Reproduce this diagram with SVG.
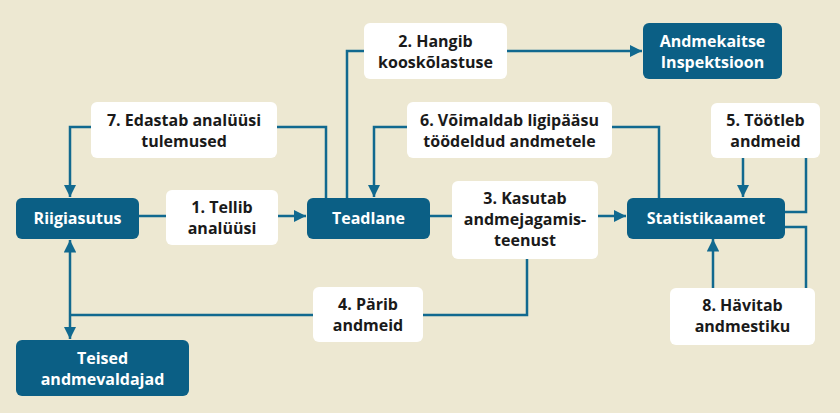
<svg xmlns="http://www.w3.org/2000/svg" width="840" height="413" viewBox="0 0 840 413">
<style>
.n{fill:#0b5f85}
.l{fill:#fff}
.t{font-family:"Open Sans","Liberation Sans",sans-serif;font-weight:bold;font-size:16px;text-anchor:middle}
.tw{fill:#fff}
.tb{fill:#1a1a1a}
.c{fill:none;stroke:#11698f;stroke-width:2.5}
</style>
<defs>
<marker id="a" viewBox="0 0 10 10" refX="10" refY="5" markerWidth="5" markerHeight="5" orient="auto-start-reverse" markerUnits="strokeWidth"><path d="M0,0L10,5L0,10z" fill="#11698f"/></marker>
</defs>
<rect width="840" height="413" fill="#ede8d2"/>
<g id="connectors">
<path class="c" d="M139,216H306" marker-end="url(#a)"/>
<path class="c" d="M430,216H626" marker-end="url(#a)"/>
<path class="c" d="M347,198V51H642" marker-end="url(#a)"/>
<path class="c" d="M326,198V127H70V197" marker-end="url(#a)"/>
<path class="c" d="M659,198V127H374V197" marker-end="url(#a)"/>
<path class="c" d="M743,158V197" marker-end="url(#a)"/>
<path class="c" d="M785,212H806V158"/>
<path class="c" d="M785,227H806V288"/>
<path class="c" d="M713,288V239" marker-end="url(#a)"/>
<path class="c" d="M527,259V315H70"/>
<path class="c" d="M70,240V339" marker-start="url(#a)" marker-end="url(#a)"/>
</g>
<g id="riigiasutus"><rect class="n" x="16" y="198" width="123" height="41" rx="6"/><text class="t tw" x="77.5" y="224">Riigiasutus</text></g>
<g id="teadlane"><rect class="n" x="307" y="198" width="123" height="41" rx="6"/><text class="t tw" x="368.5" y="224">Teadlane</text></g>
<g id="statistikaamet"><rect class="n" x="627" y="198" width="158" height="41" rx="6"/><text class="t tw" x="706" y="224">Statistikaamet</text></g>
<g id="andmekaitse"><rect class="n" x="643" y="23" width="139" height="56" rx="6"/><text class="t tw" x="712.5" y="47">Andmekaitse</text><text class="t tw" x="712.5" y="68">Inspektsioon</text></g>
<g id="teised"><rect class="n" x="16" y="340" width="173" height="56" rx="6"/><text class="t tw" x="102.5" y="364">Teised</text><text class="t tw" x="102.5" y="385">andmevaldajad</text></g>
<g id="l2"><rect class="l" x="364" y="23" width="143" height="56" rx="6"/><text class="t tb" x="435.5" y="47">2. Hangib</text><text class="t tb" x="435.5" y="68">kooskõlastuse</text></g>
<g id="l7"><rect class="l" x="91" y="102" width="186" height="56" rx="6"/><text class="t tb" x="184" y="126">7. Edastab analüüsi</text><text class="t tb" x="184" y="147">tulemused</text></g>
<g id="l6"><rect class="l" x="407" y="102" width="205" height="56" rx="6"/><text class="t tb" x="509.5" y="126">6. Võimaldab ligipääsu</text><text class="t tb" x="509.5" y="147">töödeldud andmetele</text></g>
<g id="l5"><rect class="l" x="711" y="103" width="109" height="55" rx="6"/><text class="t tb" x="765.5" y="126">5. Töötleb</text><text class="t tb" x="765.5" y="147">andmeid</text></g>
<g id="l1"><rect class="l" x="166" y="190" width="112" height="55" rx="6"/><text class="t tb" x="222" y="213">1. Tellib</text><text class="t tb" x="222" y="234">analüüsi</text></g>
<g id="l3"><rect class="l" x="452" y="181" width="146" height="78" rx="6"/><text class="t tb" x="525" y="204">3. Kasutab</text><text class="t tb" x="525" y="225">andmejagamis-</text><text class="t tb" x="525" y="246">teenust</text></g>
<g id="l4"><rect class="l" x="313" y="287" width="110" height="55" rx="6"/><text class="t tb" x="368" y="310">4. Pärib</text><text class="t tb" x="368" y="331">andmeid</text></g>
<g id="l8"><rect class="l" x="670" y="288" width="145" height="57" rx="6"/><text class="t tb" x="742.5" y="311">8. Hävitab</text><text class="t tb" x="742.5" y="332">andmestiku</text></g>
</svg>
